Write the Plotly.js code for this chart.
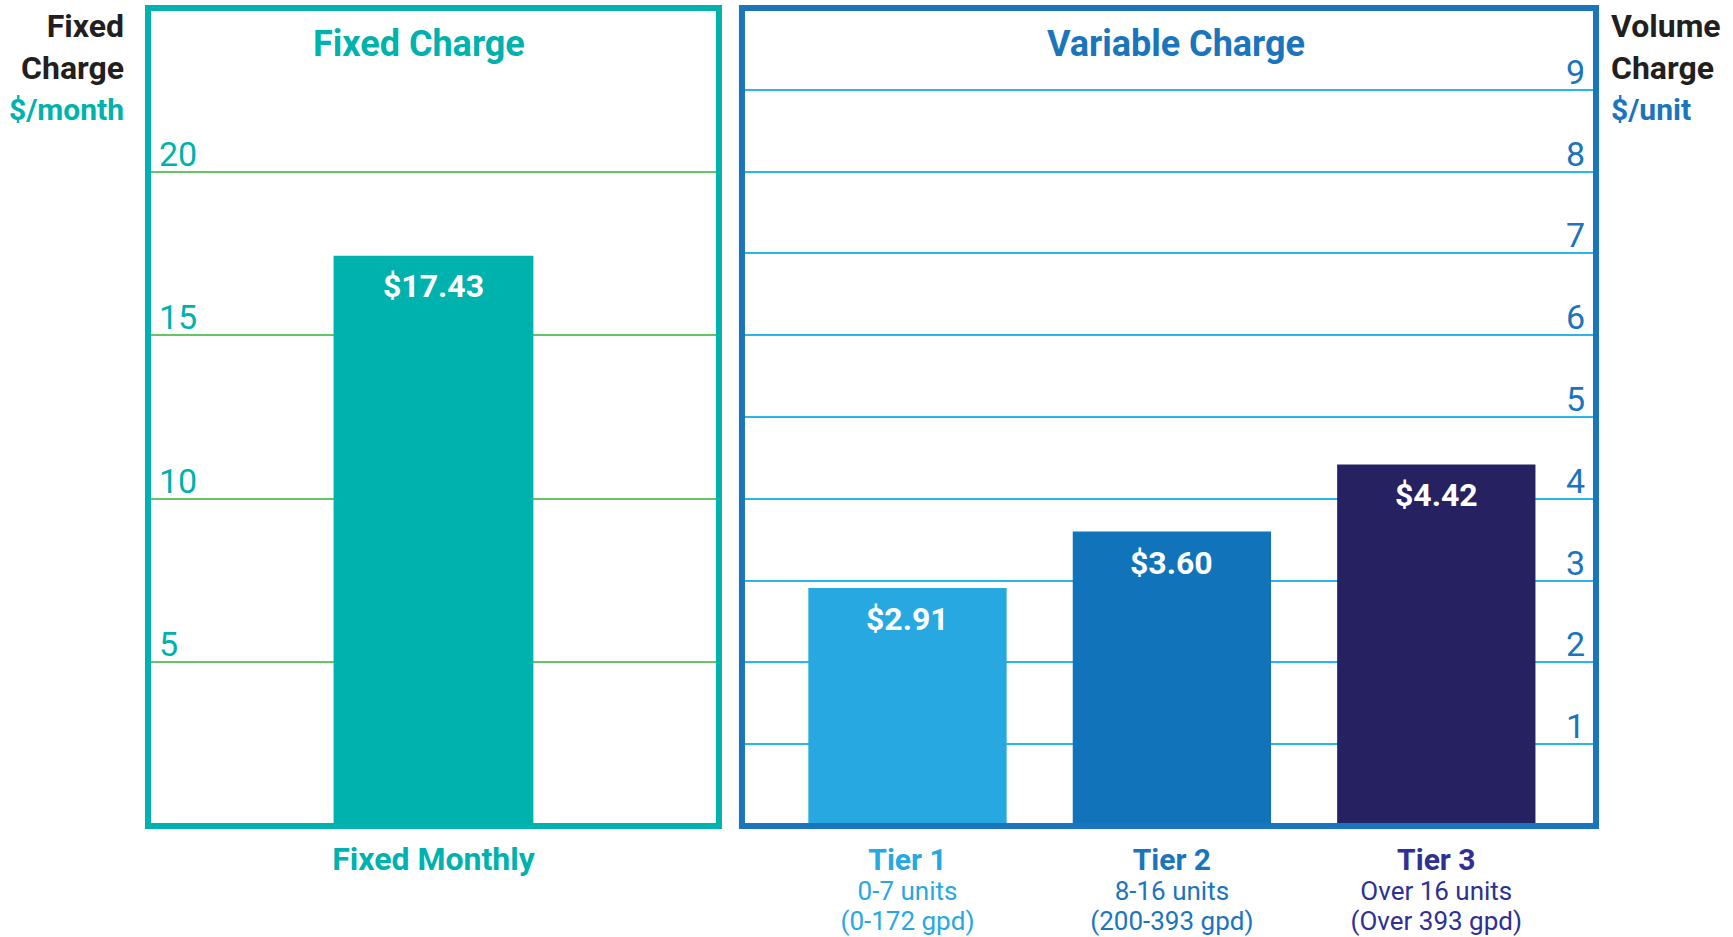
<!DOCTYPE html>
<html>
<head>
<meta charset="utf-8">
<script src="https://cdn.plot.ly/plotly-3.0.1.min.js"></script>
<style>
  html, body { margin: 0; padding: 0; background: #ffffff; }
  #chart { width: 1733px; height: 937px; }
</style>
</head>
<body>
<div id="chart"></div>
<script>
// ---- Data ----
const fixedCategories = ['Fixed Monthly'];
const fixedValues = [17.43];
const tierNames = ['Tier 1', 'Tier 2', 'Tier 3'];
const tierUnits = ['0-7 units', '8-16 units', 'Over 16 units'];
const tierGpd = ['(0-172 gpd)', '(200-393 gpd)', '(Over 393 gpd)'];
const tierValues = [2.91, 3.60, 4.42];
const fixedTicks = [5, 10, 15, 20];
const volumeTicks = [1, 2, 3, 4, 5, 6, 7, 8, 9];

// ---- Styles ----
const TEAL = '#00B2AE';
const GREEN = '#63C564';
const BLUE = '#1B75BC';
const LIGHTBLUE = '#29B4EA';
const tierBarColors = ['#27A8E0', '#1174BB', '#262262'];
const tierTextColors = ['#27A8E0', '#1B75BC', '#2E3192'];
const FONT = 'Roboto, "Liberation Sans", sans-serif';

const tierTickText = tierNames.map((n, i) =>
  `<span style="color:${tierTextColors[i]}"><span style="font-size:30px;font-weight:bold">${n}</span><br>` +
  `<span style="font-size:26px">${tierUnits[i]}</span><br><span style="font-size:26px">${tierGpd[i]}</span></span>`
);

const fmt = v => '$' + v.toFixed(2);
const valueLabelFont = { family: FONT, size: 32, color: '#ffffff', weight: 'bold' };
const valueLabels = [
  ...fixedCategories.map((c, i) => ({
    text: '<b>' + fmt(fixedValues[i]) + '</b>', xref: 'x', yref: 'y', x: c, y: fixedValues[i],
    xanchor: 'center', yanchor: 'top', yshift: -9, showarrow: false, font: valueLabelFont
  })),
  ...tierNames.map((c, i) => ({
    text: '<b>' + fmt(tierValues[i]) + '</b>', xref: 'x2', yref: 'y2', x: c, y: tierValues[i],
    xanchor: 'center', yanchor: 'top', yshift: -10, showarrow: false, font: valueLabelFont
  }))
];

const traces = [
  {
    type: 'bar', x: fixedCategories, y: fixedValues, xaxis: 'x', yaxis: 'y',
    width: 0.35, marker: { color: TEAL, line: { width: 0 } },
    hoverinfo: 'skip', showlegend: false
  },
  {
    type: 'bar', x: tierNames, y: tierValues, xaxis: 'x2', yaxis: 'y2',
    width: 0.75, marker: { color: tierBarColors, line: { width: 0 } },
    hoverinfo: 'skip', showlegend: false
  }
];

const layout = {
  width: 1733, height: 937,
  margin: { l: 148, r: 137, t: 8, b: 111, pad: 0 },
  paper_bgcolor: '#ffffff', plot_bgcolor: '#ffffff',
  font: { family: FONT, color: '#231F20' },
  showlegend: false,
  xaxis: {
    domain: [0, 0.3943], range: [-0.5, 0.5], type: 'category',
    showgrid: false, zeroline: false, showline: false, ticks: '',
    tickvals: fixedCategories, ticktext: fixedCategories.map(c => '<b>' + c + '</b>'),
    tickfont: { family: FONT, size: 32, color: TEAL },
    ticklabelstandoff: 11, fixedrange: true
  },
  xaxis2: {
    domain: [0.4102, 1], range: [-0.626, 2.604], type: 'category', anchor: 'y2',
    showgrid: false, zeroline: false, showline: false, ticks: '',
    tickvals: tierNames, ticktext: tierTickText,
    tickfont: { family: FONT, size: 23, color: BLUE },
    ticklabelstandoff: 20, fixedrange: true
  },
  yaxis: {
    range: [0, 25], anchor: 'x', side: 'left',
    tickvals: fixedTicks, showgrid: true, gridcolor: GREEN, gridwidth: 2,
    zeroline: false, showline: false, ticks: '',
    ticklabelposition: 'inside', ticklabelstandoff: 8, ticklabelshift: -18,
    tickfont: { family: FONT, size: 34, color: TEAL }, fixedrange: true
  },
  yaxis2: {
    range: [0, 10], anchor: 'x2', side: 'right',
    tickvals: volumeTicks, showgrid: true, gridcolor: LIGHTBLUE, gridwidth: 2,
    zeroline: false, showline: false, ticks: '',
    ticklabelposition: 'inside', ticklabelstandoff: 8, ticklabelshift: -18,
    tickfont: { family: FONT, size: 34, color: BLUE }, fixedrange: true
  },
  shapes: [
    { type: 'rect', xref: 'x domain', yref: 'y domain', x0: 0, x1: 1, y0: 0, y1: 1,
      line: { color: TEAL, width: 6 }, fillcolor: 'rgba(0,0,0,0)', layer: 'above' },
    { type: 'rect', xref: 'x2 domain', yref: 'y2 domain', x0: 0, x1: 1, y0: 0, y1: 1,
      line: { color: BLUE, width: 6 }, fillcolor: 'rgba(0,0,0,0)', layer: 'above' }
  ],
  annotations: [
    { text: '<b>Fixed Charge</b>', xref: 'x domain', yref: 'paper', x: 0.475, y: 0.956,
      xanchor: 'center', yanchor: 'middle', showarrow: false,
      font: { family: FONT, size: 36, color: TEAL } },
    { text: '<b>Variable Charge</b>', xref: 'x2 domain', yref: 'paper', x: 0.508, y: 0.956,
      xanchor: 'center', yanchor: 'middle', showarrow: false,
      font: { family: FONT, size: 36, color: BLUE } },
    { text: `<b>Fixed<br>Charge<br><span style="color:${TEAL};font-size:30px">$/month</span></b>`,
      xref: 'paper', yref: 'paper', x: -0.0152, y: 1, xanchor: 'right', yanchor: 'top',
      align: 'right', showarrow: false, yshift: 3,
      font: { family: FONT, size: 32, color: '#231F20' } },
    { text: `<b>Volume<br>Charge<br><span style="color:${BLUE};font-size:30px">$/unit</span></b>`,
      xref: 'paper', yref: 'paper', x: 1.0089, y: 1, xanchor: 'left', yanchor: 'top',
      align: 'left', showarrow: false, yshift: 3,
      font: { family: FONT, size: 32, color: '#231F20' } },
    ...valueLabels
  ]
};

Plotly.newPlot('chart', traces, layout, { staticPlot: true, displayModeBar: false });
</script>
</body>
</html>
